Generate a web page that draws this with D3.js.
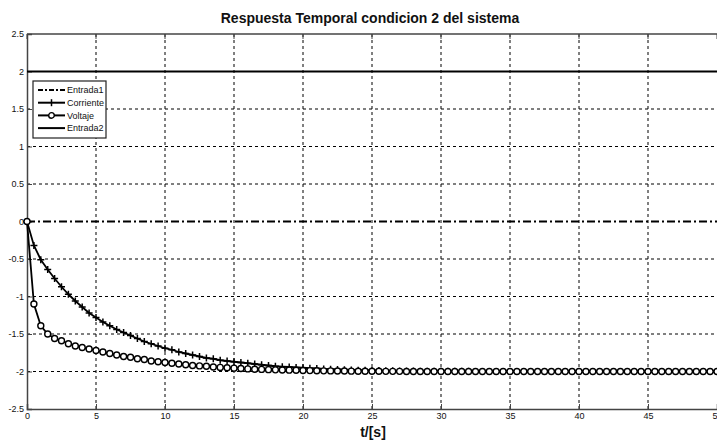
<!DOCTYPE html>
<html>
<head>
<meta charset="utf-8">
<script src="https://cdn.jsdelivr.net/npm/d3@7"></script>
<style>
    body { margin: 0; background: #fff; }
    text { font-family: "Liberation Sans", Arial, sans-serif; fill: #111; }
</style>
</head>
<body>
<svg class="chart" width="717" height="440"></svg>
<script>
// tiempo en pasos de 0.5 s
var tiempo = d3.range(0, 50.001, 0.5);

var corriente = [
    0, -0.32, -0.51, -0.64, -0.76, -0.87, -0.97, -1.06, -1.14, -1.22,
    -1.28, -1.34, -1.39, -1.44, -1.48, -1.52, -1.56, -1.60, -1.63, -1.66,
    -1.69, -1.71, -1.74, -1.76, -1.78, -1.80, -1.82, -1.83, -1.85, -1.86,
    -1.87, -1.88, -1.89, -1.90, -1.91, -1.92, -1.93, -1.935, -1.94, -1.945,
    -1.95, -1.955, -1.96, -1.965, -1.97, -1.973, -1.976, -1.979, -1.982, -1.984,
    -1.986, -1.988, -1.99, -1.991, -1.992, -1.993, -1.994, -1.995, -1.996, -1.996,
    -1.997, -1.997, -1.998, -1.998, -1.998, -1.999, -1.999, -1.999, -1.999, -1.999,
    -2, -2, -2, -2, -2, -2, -2, -2, -2, -2,
    -2, -2, -2, -2, -2, -2, -2, -2, -2, -2,
    -2, -2, -2, -2, -2, -2, -2, -2, -2, -2,
    -2
];

var voltaje = [
    0, -1.10, -1.39, -1.50, -1.56, -1.59, -1.63, -1.66, -1.68, -1.70,
    -1.72, -1.74, -1.76, -1.78, -1.80, -1.81, -1.83, -1.84, -1.86, -1.87,
    -1.88, -1.89, -1.90, -1.91, -1.92, -1.925, -1.93, -1.94, -1.945, -1.95,
    -1.955, -1.96, -1.965, -1.97, -1.972, -1.975, -1.978, -1.98, -1.982, -1.984,
    -1.986, -1.988, -1.99, -1.991, -1.992, -1.993, -1.994, -1.995, -1.996, -1.996,
    -1.997, -1.997, -1.998, -1.998, -1.998, -1.999, -1.999, -1.999, -1.999, -1.999,
    -2, -2, -2, -2, -2, -2, -2, -2, -2, -2,
    -2, -2, -2, -2, -2, -2, -2, -2, -2, -2,
    -2, -2, -2, -2, -2, -2, -2, -2, -2, -2,
    -2, -2, -2, -2, -2, -2, -2, -2, -2, -2,
    -2
];

var entrada1 = 0;
var entrada2 = 2;

var xTicks = [0, 5, 10, 15, 20, 25, 30, 35, 40, 45, 50];
var yTicks = [-2.5, -2, -1.5, -1, -0.5, 0, 0.5, 1, 1.5, 2, 2.5];
var legendNames = ["Entrada1", "Corriente", "Voltaje", "Entrada2"];

var svg = d3.select(".chart"),
    margin = { top: 34, right: 0, bottom: 31, left: 27 },
    width = +svg.attr("width") - margin.left - margin.right,
    height = +svg.attr("height") - margin.top - margin.bottom;

var x = d3.scaleLinear().domain([0, 50]).range([0, width]),
    y = d3.scaleLinear().domain([-2.5, 2.5]).range([height, 0]);

var g = svg.append("g")
    .attr("transform", "translate(" + margin.left + "," + margin.top + ")");

// rejilla
g.append("g").selectAll("line")
    .data(xTicks.slice(1, -1))
    .enter().append("line")
    .attr("x1", function (d) { return x(d); })
    .attr("x2", function (d) { return x(d); })
    .attr("y1", 0).attr("y2", height)
    .attr("stroke", "#000").attr("stroke-width", 1)
    .attr("stroke-dasharray", "3,3");

g.append("g").selectAll("line")
    .data(yTicks.slice(1, -1).filter(function (d) { return d !== 0 && d !== 2; }))
    .enter().append("line")
    .attr("x1", 0).attr("x2", width)
    .attr("y1", function (d) { return y(d); })
    .attr("y2", function (d) { return y(d); })
    .attr("stroke", "#000").attr("stroke-width", 1)
    .attr("stroke-dasharray", "3,3");

// ejes
var xAxis = g.append("g")
    .attr("transform", "translate(0," + height + ")")
    .call(d3.axisBottom(x).tickValues(xTicks).tickSize(-5).tickPadding(4)
        .tickFormat(d3.format("d")));
var yAxis = g.append("g")
    .call(d3.axisLeft(y).tickValues(yTicks).tickSize(-5).tickPadding(3)
        .tickFormat(function (d) { return d; }));
[xAxis, yAxis].forEach(function (a) {
    a.select(".domain").attr("stroke", "#444").attr("stroke-width", 1.5);
    a.selectAll(".tick line").attr("stroke", "#444");
    a.selectAll("text").style("font-size", "9px").attr("fill", "#222");
});
g.append("line")
    .attr("x1", 0).attr("x2", width).attr("y1", 0).attr("y2", 0)
    .attr("stroke", "#444").attr("stroke-width", 1.5);
g.append("g").selectAll("line")
    .data(xTicks)
    .enter().append("line")
    .attr("x1", function (d) { return x(d); })
    .attr("x2", function (d) { return x(d); })
    .attr("y1", 0).attr("y2", 5)
    .attr("stroke", "#444");

// entradas
g.append("line")
    .attr("x1", x(0)).attr("x2", x(50))
    .attr("y1", y(entrada1)).attr("y2", y(entrada1))
    .attr("stroke", "#000").attr("stroke-width", 2)
    .attr("stroke-dasharray", "8,3,2,3");
g.append("line")
    .attr("x1", x(0)).attr("x2", x(50))
    .attr("y1", y(entrada2)).attr("y2", y(entrada2))
    .attr("stroke", "#000").attr("stroke-width", 2);

var line = d3.line()
    .x(function (d, i) { return x(tiempo[i]); })
    .y(function (d) { return y(d); });

g.append("path").datum(corriente)
    .attr("d", line).attr("fill", "none")
    .attr("stroke", "#000").attr("stroke-width", 1.8);
g.append("path").datum(voltaje)
    .attr("d", line).attr("fill", "none")
    .attr("stroke", "#000").attr("stroke-width", 1.8);

// marcadores
g.append("g").selectAll("path")
    .data(corriente)
    .enter().append("path")
    .attr("transform", function (d, i) { return "translate(" + x(tiempo[i]) + "," + y(d) + ")"; })
    .attr("d", "M-3.5,0H3.5M0,-3.5V3.5")
    .attr("stroke", "#000").attr("stroke-width", 1.5);
g.append("g").selectAll("circle")
    .data(voltaje)
    .enter().append("circle")
    .attr("cx", function (d, i) { return x(tiempo[i]); })
    .attr("cy", function (d) { return y(d); })
    .attr("r", 3)
    .attr("fill", "#fff")
    .attr("stroke", "#000").attr("stroke-width", 1.4);

// leyenda
var lg = svg.append("g").attr("transform", "translate(33,81)");
lg.append("rect")
    .attr("width", 73).attr("height", 57)
    .attr("fill", "#fff").attr("stroke", "#222").attr("stroke-width", 1.2);
var item = lg.selectAll(".item")
    .data(legendNames)
    .enter().append("g")
    .attr("transform", function (d, i) { return "translate(0," + (9 + i * 12.7) + ")"; });
item.append("line")
    .attr("x1", 5).attr("x2", 32)
    .attr("stroke", "#000").attr("stroke-width", 2)
    .attr("stroke-dasharray", function (d, i) { return i === 0 ? "5,2,2,2" : null; });
item.filter(function (d, i) { return i === 1; }).append("path")
    .attr("d", "M18.5,-3.5V3.5").attr("stroke", "#000").attr("stroke-width", 1.5);
item.filter(function (d, i) { return i === 2; }).append("circle")
    .attr("cx", 18.5).attr("r", 2.8)
    .attr("fill", "#fff").attr("stroke", "#000").attr("stroke-width", 1.4);
item.append("text")
    .attr("x", 34).attr("dy", "0.35em")
    .style("font-size", "9px")
    .text(function (d) { return d; });

// titulos
svg.append("text")
    .attr("x", 370).attr("y", 23)
    .attr("text-anchor", "middle")
    .style("font-size", "14px").style("font-weight", "bold")
    .text("Respuesta Temporal condicion 2 del sistema");
svg.append("text")
    .attr("x", 373).attr("y", 437)
    .attr("text-anchor", "middle")
    .style("font-size", "14px").style("font-weight", "bold")
    .text("t/[s]");
</script>
</body>
</html>
